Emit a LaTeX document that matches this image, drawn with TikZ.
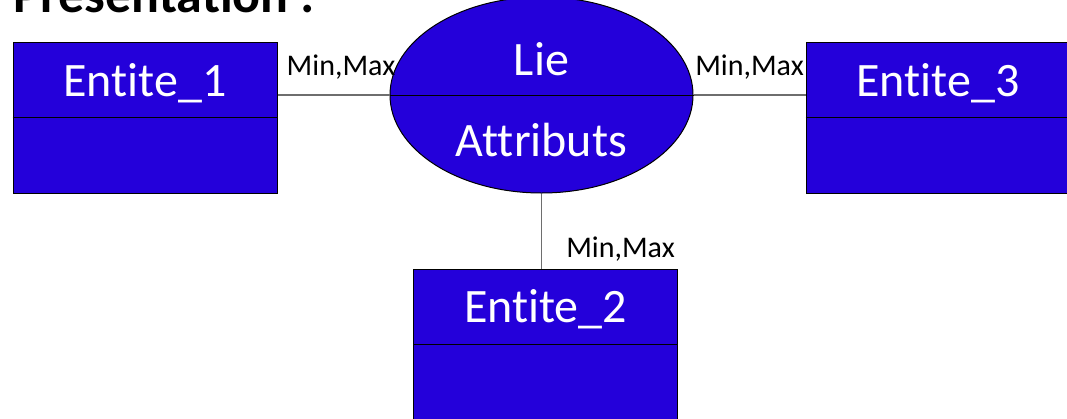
\documentclass[tikz,border=0pt]{standalone}
\usepackage{fontspec}
\setmainfont[Ligatures={NoCommon,NoContextual}]{Carlito}
\usetikzlibrary{shapes.geometric}
\definecolor{erblue}{RGB}{36,0,218}
\definecolor{congray}{RGB}{110,110,110}
\tikzset{
  entity/.style={rectangle, draw=black, line width=1pt, fill=erblue, minimum width=264pt, minimum height=151pt, inner sep=0pt},
  assoc/.style={ellipse, draw=black, line width=1pt, fill=erblue, minimum width=303pt, minimum height=196pt, inner sep=0pt},
  wtext/.style={text=white, font=\fontsize{48}{56}\selectfont, inner sep=0pt, anchor=base},
  card/.style={text=black, font=\fontsize{30}{36}\selectfont, inner sep=0pt, anchor=base},
  conn/.style={draw=congray, line width=1.3pt},
  divider/.style={draw=black, line width=1pt}
}
\begin{document}
\begin{tikzpicture}[x=1pt,y=-1pt]
\useasboundingbox (0,0) rectangle (1067,418);
\clip (0,0) rectangle (1067,418);
\fill[white] (0,0) rectangle (1067,418);
\node[anchor=base west, inner sep=0pt, font=\bfseries\fontsize{52}{60}\selectfont] (title) at (13,12) {Présentation :};
% entities
\node[entity] (e1) at (145,117.5) {};
\node[entity] (e3) at (938,117.5) {};
\node[entity] (e2) at (545.5,344.5) {};
\draw[divider] (e1.west) -- (e1.east);
\draw[divider] (e3.west) -- (e3.east);
\draw[divider] (e2.west) -- (e2.east);
\node[wtext] (t1) at ([yshift=-55pt]e1.north) {Entite\_1};
\node[wtext] (t3) at ([yshift=-55pt]e3.north) {Entite\_3};
\node[wtext] (t2) at ([yshift=-54pt]e2.north) {Entite\_2};
% association
\node[assoc] (ell) at (541.5,95) {};
\draw[divider] (ell.west) -- (ell.east);
\node[wtext] (lie) at (541.5,75) {Lie};
\node[wtext] (attr) at (541.5,156.5) {Attributs};
% connectors
\draw[conn] (ell.west -| e1.east) -- (ell.west);
\draw[conn] (ell.east) -- (ell.east -| e3.west);
\draw[conn] (ell.south) -- (ell.south |- e2.north);
% cardinalities
\node[card] (c1) at (341,75.5) {Min,Max};
\node[card] (c3) at (749.5,75.5) {Min,Max};
\node[card] (c2) at (620.5,257) {Min,Max};
\end{tikzpicture}
\end{document}
